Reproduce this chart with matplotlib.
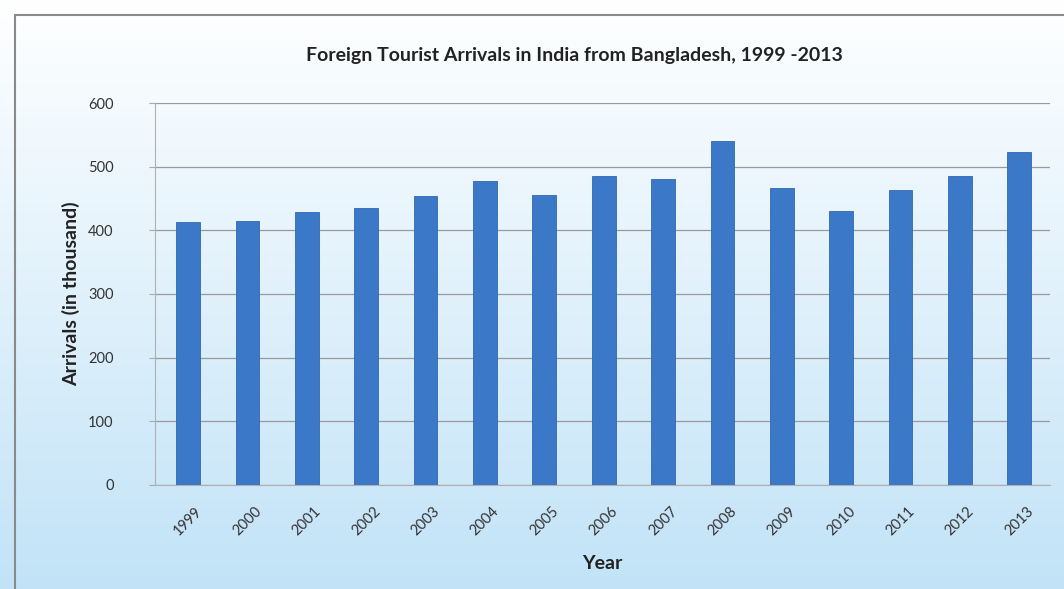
import numpy as np
import matplotlib.pyplot as plt
from matplotlib.patches import Rectangle

years = ['1999', '2000', '2001', '2002', '2003', '2004', '2005', '2006',
         '2007', '2008', '2009', '2010', '2011', '2012', '2013']
arrivals = [413, 415, 429, 435, 454, 477, 455, 485, 480, 540, 467, 430, 464, 486, 523]
yticks = [0, 100, 200, 300, 400, 500, 600]

plt.rcParams['font.family'] = ['Lato', 'DejaVu Sans']

fig = plt.figure(figsize=(10.64, 5.89), dpi=100)

# gradient background: white at top, light blue at bottom
bg = fig.add_axes([0, 0, 1, 1], zorder=-10)
grad = np.linspace(0, 1, 256).reshape(-1, 1)
top = np.array([1.0, 1.0, 1.0])
bot = np.array([0.76, 0.89, 0.97])
img = top + (bot - top) * grad[:, :, None] ** 1.0
bg.imshow(img, aspect='auto', extent=[0, 1, 0, 1], origin='upper')
bg.set_axis_off()
bg.add_patch(Rectangle((0.014, -0.01), 1.0, 0.985, transform=bg.transAxes,
                       fill=False, edgecolor='#8a8a8a', linewidth=1.5))

ax = fig.add_axes([0.146, 0.177, 0.841, 0.648])
ax.patch.set_alpha(0)
x = np.arange(len(years))
ax.bar(x, arrivals, width=0.4, color='#3b78c8', edgecolor='#3068b0', linewidth=0.6, zorder=3)

ax.set_xlim(-0.55, 14.52)
ax.set_ylim(0, 600)
ax.set_yticks(yticks)
ax.set_xticks(x)
ax.set_xticklabels(years, rotation=45, ha='center', fontsize=10.5, color='#333333')
ax.tick_params(axis='y', labelsize=10.5, colors='#333333', length=4, color='#aaaaaa', pad=26)
ax.tick_params(axis='x', length=0, pad=14)
ax.grid(axis='y', color='#9a9a9a', linewidth=0.9, zorder=0)

for s in ['top', 'right']:
    ax.spines[s].set_visible(False)
ax.spines['left'].set_color('#b0b0b0')
ax.spines['bottom'].set_color('#b0b0b0')

ax.set_ylabel('Arrivals (in thousand)', fontsize=14, fontweight='bold', color='#222222', labelpad=6)
ax.set_xlabel('Year', fontsize=14, fontweight='bold', color='#222222', labelpad=12)
fig.text(0.54, 0.905, 'Foreign Tourist Arrivals in India from Bangladesh, 1999 -2013',
         ha='center', va='center', fontsize=14, fontweight='bold', color='#222222')

plt.savefig('out.png', dpi=100)
